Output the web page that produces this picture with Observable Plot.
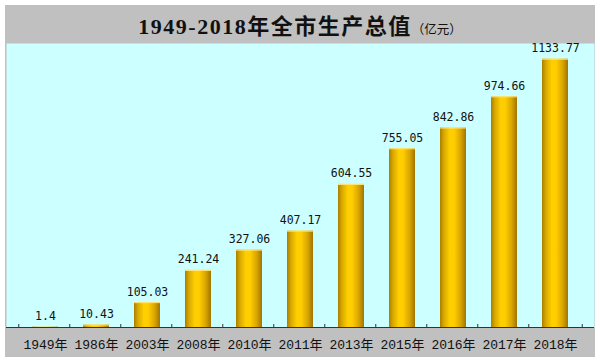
<!DOCTYPE html>
<html>
<head>
<meta charset="utf-8">
<script src="https://cdn.jsdelivr.net/npm/d3@7"></script>
<script src="https://cdn.jsdelivr.net/npm/@observablehq/plot@0.6"></script>
<style>
  html, body { margin: 0; padding: 0; background: #ffffff; }
  #wrap { position: absolute; left: 5px; top: 5px; width: 590px; }
  #title {
    height: 38px; background: #c0c0c0; text-align: center;
    line-height: 44px; color: #111; white-space: nowrap;
    font-family: "Liberation Serif", "Noto Sans CJK SC", serif;
  }
  #title .main { font-size: 22px; font-weight: bold; letter-spacing: 1.5px; }
  #title .unit { font-size: 12.5px; font-family: "Noto Sans CJK SC", sans-serif; }
  #chart svg { display: block; background: #c0c0c0; }
</style>
</head>
<body>
<div id="wrap">
  <div id="title"><span class="main">1949-2018年全市生产总值</span><span class="unit">（亿元）</span></div>
  <div id="chart"></div>
</div>
<script>
const years = ["1949年","1986年","2003年","2008年","2010年","2011年","2013年","2015年","2016年","2017年","2018年"];
const values = [1.4, 10.43, 105.03, 241.24, 327.06, 407.17, 604.55, 755.05, 842.86, 974.66, 1133.77];
const valueLabels = ["1.4","10.43","105.03","241.24","327.06","407.17","604.55","755.05","842.86","974.66","1133.77"];

const data = years.map((y, i) => ({year: y, value: values[i], label: valueLabels[i]}));

const W = 590, H = 314, mL = 1, mR = 1, mT = 0, mB = 30;
const step = (W - mL - mR) / years.length;
const yMax = 1200;
const tickLen = 3 / ((H - mT - mB) / yMax);

const defs = () => {
  const d = d3.create("svg:defs");
  const g = d.append("linearGradient").attr("id", "gold").attr("x1", "0").attr("x2", "1").attr("y1", "0").attr("y2", "0");
  [["0%", "#a87f00"], ["15%", "#d9a800"], ["38%", "#ffd000"], ["55%", "#ffcc00"], ["80%", "#d8a400"], ["100%", "#a07400"]]
    .forEach(([o, c]) => g.append("stop").attr("offset", o).attr("stop-color", c));
  return d.node();
};

const chart = Plot.plot({
  width: W, height: H,
  marginLeft: mL, marginRight: mR, marginTop: mT, marginBottom: mB,
  style: {background: "#c0c0c0", overflow: "visible"},
  x: {type: "band", domain: years, padding: 0.5, align: 0.5},
  y: {domain: [0, yMax], axis: null},
  marks: [
    defs,
    Plot.frame({fill: "#ccffff", stroke: null}),
    Plot.barY(data, {x: "year", y: "value", fill: "url(#gold)"}),
    Plot.tickY(data.filter(d => d.value > 5), {x: "year", y: "value", stroke: "#ffe680", strokeWidth: 1}),
    Plot.ruleY([0], {stroke: "#333", strokeWidth: 1}),
    Plot.ruleX(years, {x: d => d, dx: -step / 2, y1: 0, y2: tickLen, stroke: "#333"}),
    Plot.ruleX([years[years.length - 1]], {x: d => d, dx: step / 2, y1: 0, y2: tickLen, stroke: "#333"}),
    Plot.text(data, {
      x: "year", y: "value", text: "label", dy: -7, lineAnchor: "bottom",
      fontFamily: "DejaVu Sans Mono, monospace", fontSize: 11.5, fill: "#111"
    }),
    Plot.axisX({
      tickSize: 0, tickPadding: 12, label: null,
      fontFamily: "Liberation Mono, Noto Sans CJK SC, monospace", fontSize: 13, fill: "#111"
    })
  ]
});
document.getElementById("chart").appendChild(chart);
</script>
</body>
</html>
